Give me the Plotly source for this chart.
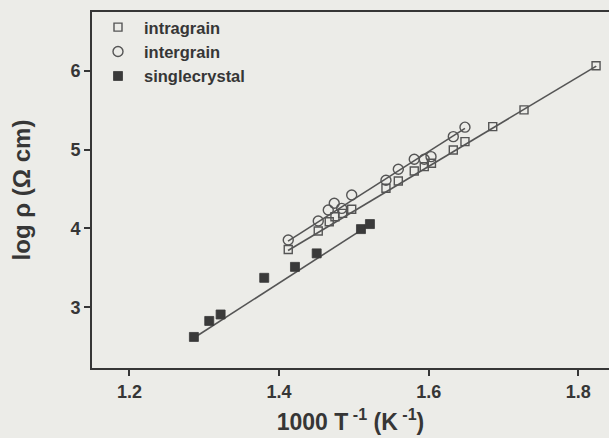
import plotly.graph_objects as go

# ---- data ----
intra_x = [1.4123, 1.4524, 1.4671, 1.4747, 1.4850, 1.4971, 1.5429, 1.5594, 1.5807,
           1.5941, 1.6037, 1.6329, 1.6485, 1.6856, 1.7274, 1.8237]
intra_y = [3.734, 3.967, 4.085, 4.149, 4.192, 4.243, 4.510, 4.602, 4.729,
           4.784, 4.827, 4.996, 5.102, 5.292, 5.504, 6.064]

inter_x = [1.4123, 1.4524, 1.4658, 1.4738, 1.4837, 1.4971, 1.5429, 1.5594, 1.5807,
           1.5941, 1.6031, 1.6329, 1.6485]
inter_y = [3.853, 4.094, 4.234, 4.319, 4.255, 4.424, 4.611, 4.751, 4.878,
           4.878, 4.911, 5.165, 5.285]

single_x = [1.2862, 1.3067, 1.3219, 1.3802, 1.4213, 1.4503, 1.5095, 1.5215]
single_y = [2.624, 2.827, 2.909, 3.374, 3.513, 3.684, 3.992, 4.056]

# fitted lines (end points as drawn in the picture)
intra_fit_x = [1.412, 1.824]
intra_fit_y = [3.72, 6.06]
inter_fit_x = [1.412, 1.6485]
inter_fit_y = [3.84, 5.27]
single_fit_x = [1.285, 1.5238]
single_fit_y = [2.604, 4.065]

x_ticks = [1.2, 1.4, 1.6, 1.8]
y_ticks = [3, 4, 5, 6]

BG = "#ecece8"
INK = "#363636"
MK = "#555555"
FONT = "Liberation Sans, Arial, sans-serif"

fig = go.Figure()

for fx, fy in [(intra_fit_x, intra_fit_y), (inter_fit_x, inter_fit_y), (single_fit_x, single_fit_y)]:
    fig.add_trace(go.Scatter(x=fx, y=fy, mode="lines", showlegend=False,
                             line=dict(color=MK, width=1.6), hoverinfo="skip"))

fig.add_trace(go.Scatter(x=intra_x, y=intra_y, mode="markers", name="intragrain",
                         marker=dict(symbol="square-open", size=8, color=MK,
                                     line=dict(width=1.4, color=MK))))
fig.add_trace(go.Scatter(x=inter_x, y=inter_y, mode="markers", name="intergrain",
                         marker=dict(symbol="circle-open", size=10, color=MK,
                                     line=dict(width=1.4, color=MK))))
fig.add_trace(go.Scatter(x=single_x, y=single_y, mode="markers", name="singlecrystal",
                         marker=dict(symbol="square", size=9, color="#3a3a3a",
                                     line=dict(width=0.8, color="#3a3a3a"))))

fig.update_layout(
    width=609, height=438,
    margin=dict(l=92, r=0, t=12, b=70),
    paper_bgcolor=BG, plot_bgcolor=BG,
    font=dict(family=FONT, color=INK, size=17, weight="bold"),
    showlegend=True,
    legend=dict(x=0.0, y=1.006, xanchor="left", yanchor="top",
                bgcolor="rgba(0,0,0,0)", font=dict(size=16.5, weight="bold", color=INK),
                itemwidth=42, tracegroupgap=0),
)

fig.update_xaxes(
    range=[1.15, 1.841], tickvals=x_ticks, ticktext=[f"{v:.1f}" for v in x_ticks],
    showgrid=False, zeroline=False,
    showline=True, linecolor=INK, linewidth=2, mirror=True,
    ticks="outside", ticklen=6, tickwidth=2, tickcolor=INK,
    tickfont=dict(size=18, weight="bold"),
    title=dict(text="1000 T<sup> -1</sup> (K<sup> -1</sup>)",
               font=dict(size=23, weight="bold"), standoff=13),
)
fig.update_yaxes(
    range=[2.23, 6.746], tickvals=y_ticks, ticktext=[str(v) for v in y_ticks],
    showgrid=False, zeroline=False,
    showline=True, linecolor=INK, linewidth=2, mirror=False,
    ticks="outside", ticklen=6, tickwidth=2, tickcolor=INK,
    tickfont=dict(size=18, weight="bold"),
    title=dict(text="log ρ (Ω cm)", font=dict(size=24, weight="bold"), standoff=33),
)

fig.write_html("out.html")
